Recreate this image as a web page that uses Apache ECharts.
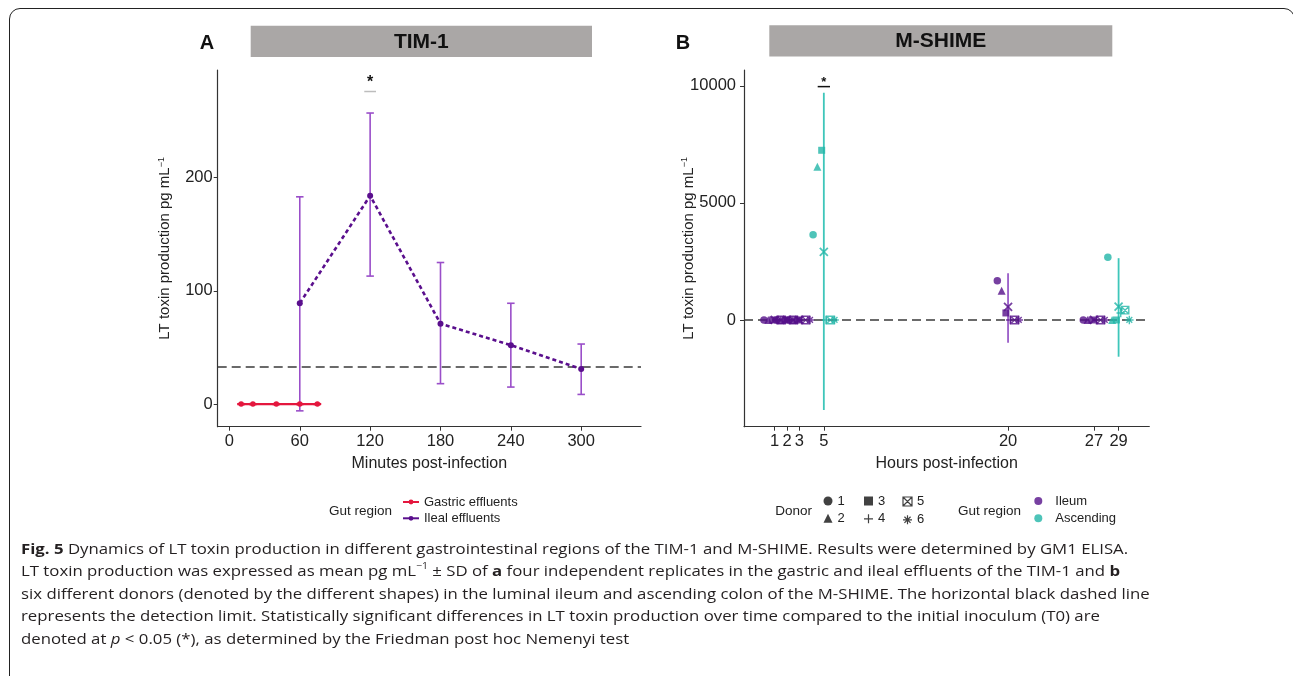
<!DOCTYPE html>
<html>
<head>
<meta charset="utf-8">
<script src="https://cdn.jsdelivr.net/npm/echarts@6/dist/echarts.min.js"></script>
<style>
html,body{margin:0;padding:0;background:#fff;width:1293px;height:676px;overflow:hidden;}
#chart{position:absolute;left:0;top:0;width:1293px;height:676px;}
#frame{position:absolute;left:9px;top:7.5px;width:1286px;height:720px;border:1.4px solid #222;border-radius:11px;box-sizing:border-box;pointer-events:none;}
#caption{position:absolute;left:21px;top:537.5px;font-family:'Open Sans','Noto Sans',sans-serif;font-size:14.5px;line-height:22.5px;color:#231f20;}
#caption .l{display:block;white-space:nowrap;width:max-content;transform-origin:0 50%;}
#caption sup{font-size:9px;line-height:0;position:relative;top:-1px;vertical-align:super;}
</style>
</head>
<body>
<div id="chart"></div>
<div id="frame"></div>
<div id="caption">
<span class="l" data-w="1140"><b>Fig. 5</b> Dynamics of LT toxin production in different gastrointestinal regions of the TIM-1 and M-SHIME. Results were determined by GM1 ELISA.</span>
<span class="l" data-w="1121">LT toxin production was expressed as mean pg mL<sup>−1</sup> ± SD of <b>a</b> four independent replicates in the gastric and ileal effluents of the TIM-1 and <b>b</b></span>
<span class="l" data-w="1114">six different donors (denoted by the different shapes) in the luminal ileum and ascending colon of the M-SHIME. The horizontal black dashed line</span>
<span class="l" data-w="981">represents the detection limit. Statistically significant differences in LT toxin production over time compared to the initial inoculum (T0) are</span>
<span class="l" data-w="666">denoted at <i>p</i> &lt; 0.05 (*), as determined by the Friedman post hoc Nemenyi test</span>
</div>
<script>
// ---------------- DATA ----------------
// Panel A: TIM-1
const gastricTime = [10, 20, 40, 60, 75];
const gastricMean = [0, 0, 0, 0, 0];
const gastricLow  = [0, 0, 0, 0, 0];
const gastricHigh = [0, 0, 0, 0, 0];
const ilealTime = [60, 120, 180, 240, 300];
const ilealMean = [89, 184, 71, 52, 31];
const ilealLow  = [-6, 113, 18, 15, 8.5];
const ilealHigh = [183, 257, 125, 89, 53];
const detectionLimitA = 33;
const xTicksA = [0, 60, 120, 180, 240, 300];
const yTicksA = [0, 100, 200];
const sigA = [120, 284, 276];   // x, star y, bar y

// Panel B: M-SHIME
const donors = ['1', '2', '3', '4', '5', '6'];
const ileumTime = [1, 2, 3, 20, 27];
const ileumByDonor = [
  [0, 0, 0, 1680, 0],
  [0, 0, 0, 1250, 0],
  [0, 0, 0, 300, 0],
  [0, 0, 0, 0, 0],
  [0, 0, 0, 0, 0],
  [0, 0, 0, 0, 0]
];
const ileumMean = [0, 0, 0, 560, 0];
const ileumLow  = [0, 0, 0, -970, 0];
const ileumHigh = [0, 0, 0, 1995, 0];
const ascTime = [5, 29];
const ascByDonor = [
  [3645, 2680],
  [6550, 0],
  [7250, 0],
  [0, 300],
  [0, 420],
  [0, 0]
];
const ascMean = [2910, 570];
const ascLow  = [-3850, -1570];
const ascHigh = [9710, 2640];
const detectionLimitB = 0;
const xTicksB = [1, 2, 3, 5, 20, 27, 29];
const yTicksB = [0, 5000, 10000];
const sigB = [5, 10150, 9970];

// ---------------- STYLE ----------------
const FONT = "'Liberation Sans', Arial, Helvetica, sans-serif";
const RED = '#e4173e';
const PURPLE = '#5a0f8d';
const PURPLE_ERR = '#9a4ec9';
const B_PURPLE = '#55108a';
const B_PURPLE_ERR = '#9a5cc8';
const TEAL = '#22b5a8';
const TEAL_ERR = '#3ec6ba';
const AXIS = '#333';
const TXT = '#222';

const SYM_PLUS = 'path://M5,0L5,10M0,5L10,5';
const SYM_BOXX = 'path://M0,0L10,0L10,10L0,10ZM0,0L10,10M10,0L0,10';
const SYM_STAR = 'path://M5,0L5,10M0,5L10,5M1.6,1.6L8.4,8.4M8.4,1.6L1.6,8.4';
const SYM_CROSS = 'path://M0,0L10,10M10,0L0,10';
const donorSymbols = ['circle', 'triangle', 'rect', SYM_PLUS, SYM_BOXX, SYM_STAR];
const donorStroke = [false, false, false, true, true, true];
const donorSize = [7.5, 8, 7, 8.5, 7.5, 8.5];
const dodgeStep = 0.35;

function donorStyle(d, color) {
  return donorStroke[d]
    ? { color: 'none', borderColor: color, borderWidth: 1.4 }
    : { color: color, borderWidth: 0 };
}

function errRender(color, width, capHalf) {
  return function (params, api) {
    const x = api.value(0), lo = api.value(1), hi = api.value(2);
    const a = api.coord([x, lo]), b = api.coord([x, hi]);
    const st = { stroke: color, lineWidth: width };
    const ch = [{ type: 'line', shape: { x1: a[0], y1: a[1], x2: b[0], y2: b[1] }, style: st }];
    if (capHalf > 0) {
      const l1 = api.coord([x - capHalf, lo]), r1 = api.coord([x + capHalf, lo]);
      const l2 = api.coord([x - capHalf, hi]), r2 = api.coord([x + capHalf, hi]);
      ch.push({ type: 'line', shape: { x1: l1[0], y1: l1[1], x2: r1[0], y2: r1[1] }, style: st });
      ch.push({ type: 'line', shape: { x1: l2[0], y1: l2[1], x2: r2[0], y2: r2[1] }, style: st });
    }
    return { type: 'group', children: ch };
  };
}

function sigRender(barColor, halfW, fs) {
  return function (params, api) {
    const x = api.value(0);
    const p = api.coord([x, api.value(1)]);
    const l = api.coord([x - halfW, api.value(2)]);
    const r = api.coord([x + halfW, api.value(2)]);
    return {
      type: 'group', children: [
        { type: 'line', shape: { x1: l[0], y1: l[1], x2: r[0], y2: r[1] }, style: { stroke: barColor, lineWidth: 1.5 } },
        { type: 'text', style: { text: '*', x: p[0], y: p[1], align: 'center', verticalAlign: 'middle', fontSize: fs, fontWeight: 'bold', fill: '#111', fontFamily: FONT } }
      ]
    };
  };
}

function valueAxis(opts) {
  return Object.assign({
    type: 'value',
    axisLine: { show: true, onZero: false, lineStyle: { color: AXIS, width: 1.2 } },
    splitLine: { show: false },
    nameLocation: 'middle',
    nameMoveOverlap: false,
    nameTextStyle: { fontSize: 15, color: TXT, fontFamily: FONT }
  }, opts);
}

const yNameRich = {
  a: { fontSize: 15, color: TXT, fontFamily: FONT, lineHeight: 17 },
  s: { fontSize: 9, color: TXT, fontFamily: FONT, verticalAlign: 'top', lineHeight: 17 }
};
const plainNum = v => String(v);
const tickFont = { fontSize: 16.5, color: TXT, fontFamily: FONT, formatter: plainNum };

// ---------------- SERIES ----------------
const series = [];
const dashStyle = { type: [9, 5], color: '#3a3a3a', width: 1.6 };

// Panel A
series.push({
  type: 'custom', name: 'gastric-sd', xAxisIndex: 0, yAxisIndex: 0,
  renderItem: errRender(RED, 2.2, 3.2),
  data: gastricTime.map((t, i) => [t, gastricLow[i], gastricHigh[i]]),
  encode: { x: 0, y: [1, 2] }, silent: true, z: 2
});
series.push({
  type: 'line', name: 'Gastric effluents', xAxisIndex: 0, yAxisIndex: 0,
  data: gastricTime.map((t, i) => [t, gastricMean[i]]),
  lineStyle: { color: RED, width: 2.2 }, itemStyle: { color: RED },
  symbol: 'circle', symbolSize: 5.5, showSymbol: true, z: 3,
  markLine: { silent: true, symbol: 'none', label: { show: false }, lineStyle: dashStyle, data: [{ yAxis: detectionLimitA }], z: 1 }
});
series.push({
  type: 'custom', name: 'ileal-sd', xAxisIndex: 0, yAxisIndex: 0,
  renderItem: errRender(PURPLE_ERR, 1.6, 3.2),
  data: ilealTime.map((t, i) => [t, ilealLow[i], ilealHigh[i]]),
  encode: { x: 0, y: [1, 2] }, silent: true, z: 2
});
series.push({
  type: 'line', name: 'Ileal effluents', xAxisIndex: 0, yAxisIndex: 0,
  data: ilealTime.map((t, i) => [t, ilealMean[i]]),
  lineStyle: { color: PURPLE, width: 2.6, type: [4, 3] }, itemStyle: { color: PURPLE },
  symbol: 'circle', symbolSize: 6, showSymbol: true, z: 4
});
series.push({
  type: 'custom', name: 'sigA', xAxisIndex: 0, yAxisIndex: 0,
  renderItem: sigRender('#bdbdbd', 5, 16), data: [sigA], silent: true, z: 5
});

// Panel B
series.push({
  type: 'custom', name: 'ileum-sd', xAxisIndex: 1, yAxisIndex: 1,
  renderItem: errRender(B_PURPLE_ERR, 1.8, 0),
  data: ileumTime.map((t, i) => [t, ileumLow[i], ileumHigh[i]]).filter(d => d[1] !== d[2]),
  encode: { x: 0, y: [1, 2] }, silent: true, z: 2,
  markLine: { silent: true, symbol: 'none', label: { show: false }, lineStyle: dashStyle, data: [{ yAxis: detectionLimitB }], z: 1 }
});
series.push({
  type: 'custom', name: 'asc-sd', xAxisIndex: 1, yAxisIndex: 1,
  renderItem: errRender(TEAL_ERR, 1.8, 0),
  data: ascTime.map((t, i) => [t, ascLow[i], ascHigh[i]]),
  encode: { x: 0, y: [1, 2] }, silent: true, z: 2
});
donors.forEach((name, d) => {
  const off = (d - 2.5) * dodgeStep;
  series.push({
    type: 'scatter', name: name, xAxisIndex: 1, yAxisIndex: 1,
    symbol: donorSymbols[d], symbolSize: donorSize[d],
    itemStyle: donorStyle(d, B_PURPLE), z: 3,
    data: ileumTime.map((t, i) => [t + off, ileumByDonor[d][i]])
  });
  series.push({
    type: 'scatter', name: name, xAxisIndex: 1, yAxisIndex: 1,
    symbol: donorSymbols[d], symbolSize: donorSize[d],
    itemStyle: donorStyle(d, TEAL), z: 3,
    data: ascTime.map((t, i) => [t + off, ascByDonor[d][i]])
  });
});
series.push({
  type: 'scatter', name: 'Ileum', xAxisIndex: 1, yAxisIndex: 1,
  symbol: SYM_CROSS, symbolSize: 8, z: 4,
  itemStyle: { color: 'none', borderColor: B_PURPLE, borderWidth: 1.8 },
  data: ileumTime.map((t, i) => [t, ileumMean[i]])
});
series.push({
  type: 'scatter', name: 'Ascending', xAxisIndex: 1, yAxisIndex: 1,
  symbol: SYM_CROSS, symbolSize: 8, z: 4,
  itemStyle: { color: 'none', borderColor: TEAL, borderWidth: 1.8 },
  data: ascTime.map((t, i) => [t, ascMean[i]])
});
series.push({
  type: 'custom', name: 'sigB', xAxisIndex: 1, yAxisIndex: 1,
  renderItem: sigRender('#111', 0.5, 13), data: [sigB], silent: true, z: 5
});

// ---------------- LEGENDS ----------------
const legText = { fontSize: 13, color: TXT, fontFamily: FONT };
function donorLegend(names, left) {
  return {
    orient: 'vertical', left: left, top: 494.5, itemGap: 4.3, padding: 0,
    itemWidth: 9, itemHeight: 9, selectedMode: false, textStyle: legText,
    data: names.map(n => {
      const d = donors.indexOf(n);
      return { name: n, itemStyle: donorStroke[d] ? { color: 'none', borderColor: '#111', borderWidth: 1.2 } : { color: '#111', borderWidth: 0 } };
    })
  };
}
const legends = [
  {
    orient: 'vertical', left: 402, top: 495.5, itemGap: 3.3, itemWidth: 16, itemHeight: 6, padding: 0,
    selectedMode: false, textStyle: legText,
    lineStyle: { type: 'solid', width: 2 },
    data: ['Gastric effluents', 'Ileal effluents']
  },
  donorLegend(['1', '2'], 823.5),
  donorLegend(['3', '4'], 861.5),
  donorLegend(['5', '6'], 900.5),
  {
    orient: 'vertical', left: 1034.3, top: 494.5, itemGap: 4.3, itemWidth: 8, itemHeight: 8, padding: 0,
    selectedMode: false, textStyle: Object.assign({ padding: [0, 0, 0, 8] }, legText),
    data: [
      { name: 'Ileum', icon: 'circle', itemStyle: { color: B_PURPLE, borderWidth: 0 } },
      { name: 'Ascending', icon: 'circle', itemStyle: { color: TEAL, borderWidth: 0 } }
    ]
  }
];

// ---------------- CHART ----------------
const chart = echarts.init(document.getElementById('chart'), null, { renderer: 'canvas' });
chart.setOption({
  animation: false,
  backgroundColor: '#fff',
  textStyle: { fontFamily: FONT },
  grid: [
    { left: 217.7, top: 70, width: 423.3, height: 356.7, outerBoundsMode: 'none' },
    { left: 744, top: 70, width: 405.3, height: 356.7, outerBoundsMode: 'none' }
  ],
  xAxis: [
    valueAxis({
      gridIndex: 0, min: -10, max: 351,
      axisTick: { show: true, length: 4, customValues: xTicksA, lineStyle: { color: AXIS } },
      axisLabel: Object.assign({ customValues: xTicksA, margin: 6 }, tickFont),
      name: 'Minutes post-infection', nameGap: 29,
      nameTextStyle: { fontSize: 16, color: TXT, fontFamily: FONT }
    }),
    valueAxis({
      gridIndex: 1, min: -1.5, max: 31.5,
      axisTick: { show: true, length: 4, customValues: xTicksB, lineStyle: { color: AXIS } },
      axisLabel: Object.assign({ customValues: xTicksB, margin: 6 }, tickFont),
      name: 'Hours post-infection', nameGap: 29,
      nameTextStyle: { fontSize: 16, color: TXT, fontFamily: FONT }
    })
  ],
  yAxis: [
    valueAxis({
      gridIndex: 0, min: -20, max: 295,
      axisTick: { show: true, length: 4, customValues: yTicksA, lineStyle: { color: AXIS } },
      axisLabel: Object.assign({ customValues: yTicksA, margin: 5 }, tickFont),
      name: '{a|LT toxin production pg mL}{s|−1}', nameGap: 44,
      nameTextStyle: { rich: yNameRich }
    }),
    valueAxis({
      gridIndex: 1, min: -4560, max: 10680,
      axisTick: { show: true, length: 4, customValues: yTicksB, lineStyle: { color: AXIS } },
      axisLabel: Object.assign({ customValues: yTicksB, margin: 8 }, tickFont),
      name: '{a|LT toxin production pg mL}{s|−1}', nameGap: 47,
      nameTextStyle: { rich: yNameRich }
    })
  ],
  legend: legends,
  graphic: [
    { type: 'rect', shape: { x: 250.7, y: 25.8, width: 341.3, height: 31.3 }, style: { fill: '#aaa7a6' }, silent: true },
    { type: 'rect', shape: { x: 769.3, y: 25.2, width: 343, height: 31.3 }, style: { fill: '#aaa7a6' }, silent: true },
    { type: 'text', x: 421.3, y: 42, style: { text: 'TIM-1', align: 'center', verticalAlign: 'middle', fontSize: 21, fontWeight: 'bold', fill: '#111', fontFamily: FONT }, silent: true },
    { type: 'text', x: 940.8, y: 41.5, style: { text: 'M-SHIME', align: 'center', verticalAlign: 'middle', fontSize: 21, fontWeight: 'bold', fill: '#111', fontFamily: FONT }, silent: true },
    { type: 'text', x: 207, y: 43, style: { text: 'A', align: 'center', verticalAlign: 'middle', fontSize: 20, fontWeight: 'bold', fill: '#111', fontFamily: FONT }, silent: true },
    { type: 'text', x: 683, y: 43, style: { text: 'B', align: 'center', verticalAlign: 'middle', fontSize: 20, fontWeight: 'bold', fill: '#111', fontFamily: FONT }, silent: true },
    { type: 'text', x: 329, y: 511, style: { text: 'Gut region', align: 'left', verticalAlign: 'middle', fontSize: 13.5, fill: TXT, fontFamily: FONT }, silent: true },
    { type: 'text', x: 812, y: 511, style: { text: 'Donor', align: 'right', verticalAlign: 'middle', fontSize: 13.5, fill: TXT, fontFamily: FONT }, silent: true },
    { type: 'text', x: 958, y: 511, style: { text: 'Gut region', align: 'left', verticalAlign: 'middle', fontSize: 13.5, fill: TXT, fontFamily: FONT }, silent: true }
  ],
  series: series
});

// one common horizontal scale for the caption, fitted to the reference line widths
function fitCaption() {
  const els = Array.from(document.querySelectorAll('#caption .l'));
  let sw = 0, st = 0;
  els.forEach(el => {
    el.style.transform = 'none';
    sw += el.getBoundingClientRect().width;
    st += parseFloat(el.getAttribute('data-w'));
  });
  if (sw > 0) {
    const s = (st / sw).toFixed(4);
    els.forEach(el => { el.style.transform = 'scaleX(' + s + ')'; });
  }
}
fitCaption();
if (document.fonts && document.fonts.ready) document.fonts.ready.then(fitCaption);
</script>
</body>
</html>
